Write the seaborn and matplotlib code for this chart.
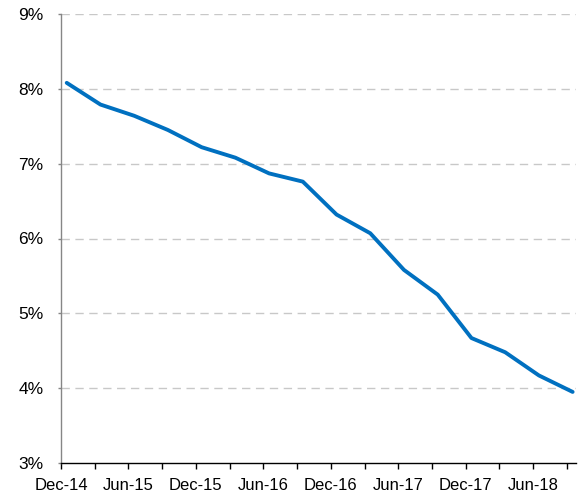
import matplotlib
matplotlib.use("Agg")
import matplotlib.pyplot as plt
import seaborn as sns
import pandas as pd
import numpy as np

quarters = ["Dec-14", "Mar-15", "Jun-15", "Sep-15", "Dec-15", "Mar-16", "Jun-16", "Sep-16",
            "Dec-16", "Mar-17", "Jun-17", "Sep-17", "Dec-17", "Mar-18", "Jun-18", "Sep-18"]
values = [8.08, 7.79, 7.64, 7.45, 7.22, 7.08, 6.87, 6.76,
          6.32, 6.07, 5.58, 5.25, 4.67, 4.48, 4.17, 3.95]
y_ticks = [3, 4, 5, 6, 7, 8, 9]
y_labels = ["3%", "4%", "5%", "6%", "7%", "8%", "9%"]

sns.set_theme(style="white")
plt.rcParams['font.family'] = ['Liberation Sans', 'DejaVu Sans']

df = pd.DataFrame({"q": np.arange(len(quarters)) + 0.17, "v": values})

fig = plt.figure(figsize=(5.78, 4.97), dpi=100)
ax = fig.add_axes([61/578, 1 - 463/497, (576-61)/578, (463-14)/497])

ax.set_ylim(3, 9)
ax.set_xlim(0, 15.27)
ax.set_yticks(y_ticks)
ax.set_yticklabels(y_labels, fontsize=12.5, color="#000000")
for y in y_ticks[1:]:
    ax.axhline(y, color="#C8C8C8", lw=1.0, ls=(0, (6, 4)), zorder=0)

sns.lineplot(data=df, x="q", y="v", ax=ax, color="#0070C0", lw=2.8, zorder=3)

ax.set_xticks(np.arange(len(quarters)))
ax.set_xticklabels([q if i % 2 == 0 else "" for i, q in enumerate(quarters)], fontsize=12, color="#000000")
ax.set_xlabel("")
ax.set_ylabel("")

for s in ["top", "right"]:
    ax.spines[s].set_visible(False)
ax.spines["left"].set_color("#868686")
ax.spines["left"].set_linewidth(1.0)
ax.spines["bottom"].set_color("#000000")
ax.spines["bottom"].set_linewidth(1.0)
ax.tick_params(axis="x", direction="out", length=4.5, width=1.0, color="#000000", pad=6, bottom=True)
ax.tick_params(axis="y", direction="out", length=2.5, width=1.0, color="#868686", pad=10, left=True)

fig.savefig("out.png", dpi=100)
